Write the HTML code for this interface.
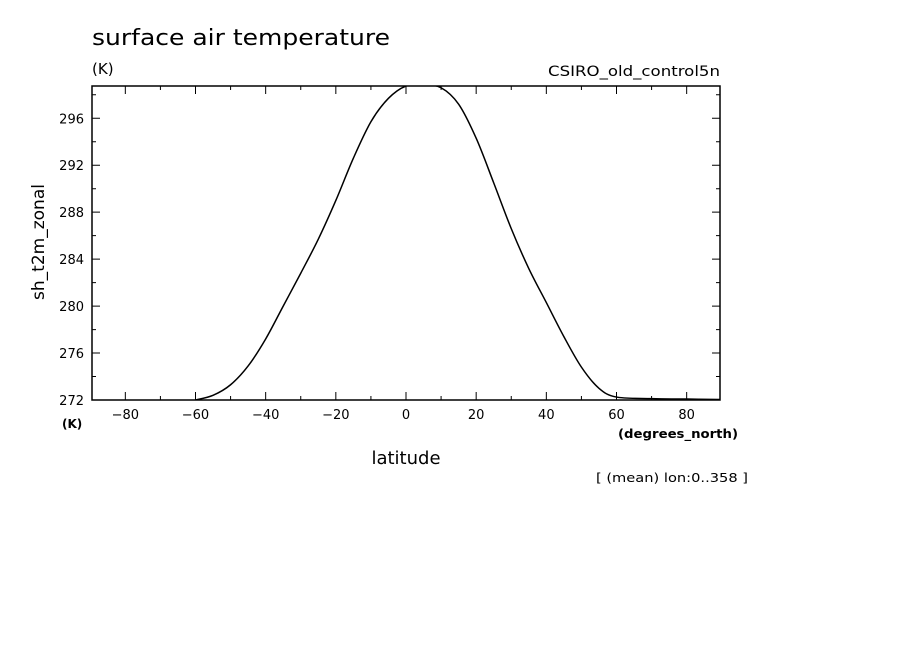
<!DOCTYPE html>
<html><head><meta charset="utf-8"><style>
body{margin:0;background:#fff;}
svg text{font-family:"DejaVu Sans","Liberation Sans",sans-serif;fill:#000;}
</style></head><body>
<svg width="904" height="654" viewBox="0 0 904 654">
<defs><clipPath id="clip"><rect x="92" y="86" width="628" height="314"/></clipPath></defs>
<rect width="904" height="654" fill="#fff"/>
<text x="92" y="45" font-size="22" textLength="298" lengthAdjust="spacingAndGlyphs">surface air temperature</text>
<text x="92" y="74" font-size="15">(K)</text>
<text x="548" y="76" font-size="14" textLength="172" lengthAdjust="spacingAndGlyphs">CSIRO_old_control5n</text>
<text transform="translate(44,242) rotate(-90)" font-size="17" text-anchor="middle">sh_t2m_zonal</text>
<text x="62" y="428" font-size="12" font-weight="bold">(K)</text>
<text x="618" y="438" font-size="12" font-weight="bold" textLength="120" lengthAdjust="spacingAndGlyphs">(degrees_north)</text>
<text x="406" y="464" font-size="18" text-anchor="middle">latitude</text>
<text x="596" y="482" font-size="12" textLength="152" lengthAdjust="spacingAndGlyphs">[ (mean) lon:0..358 ]</text>
<g id="axes"></g>
<g id="plot" clip-path="url(#clip)"></g>
</svg>
<script>
const lats=[-60,-55,-50,-45,-40,-35,-30,-25,-20,-15,-10,-5,0,5,10,15,20,25,30,35,40,45,50,55,60,70,80,89.5];
const temps=[272.0,272.4,273.3,274.9,277.2,280.0,282.8,285.7,289.0,292.6,295.7,297.7,298.75,298.85,298.6,297.2,294.3,290.5,286.6,283.2,280.3,277.4,274.8,273.0,272.25,272.12,272.08,272.04];
const xTicks=[-80,-60,-40,-20,0,20,40,60,80];
const yTicks=[272,276,280,284,288,292,296];
const L=92,R=720,T=86,B=400;
const xMin=-89.5,xMax=89.5,yMin=272,yMax=298.75;
const xs=v=>L+(v-xMin)/(xMax-xMin)*(R-L);
const ys=v=>B-(v-yMin)/(yMax-yMin)*(B-T);
const NS="http://www.w3.org/2000/svg";
const ax=document.getElementById('axes'),pl=document.getElementById('plot');
function mk(tag,at,parent){const e=document.createElementNS(NS,tag);for(const k in at)e.setAttribute(k,at[k]);parent.appendChild(e);return e;}
let f=mk('rect',{x:L,y:T,width:R-L,height:B-T,fill:'none',stroke:'#000','stroke-width':1.5},ax);


for(let v=-80;v<=80;v+=10){
  const major=v%20===0,len=major?8:4,x=xs(v);
  let t=mk('path',{d:`M${x},${B}v${-len}M${x},${T}v${len}`,stroke:'#000','stroke-width':1},ax);
  
  
}
xTicks.forEach(v=>{
  let t=mk('text',{x:xs(v),y:B+19,'font-size':13,'text-anchor':'middle'},ax);
  t.textContent=(v<0?'\u2212':'')+Math.abs(v);
  
  
});
for(let v=274;v<=298;v+=2){
  const major=v%4===0,len=major?8:4,y=ys(v);
  let t=mk('path',{d:`M${L},${y}h${len}M${R},${y}h${-len}`,stroke:'#000','stroke-width':1},ax);
  
  
}
yTicks.forEach(v=>{
  let t=mk('text',{x:L-8,y:ys(v)+5,'font-size':13,'text-anchor':'end'},ax);
  t.textContent=v;
  
  
});
const P=lats.map((a,i)=>[xs(a),ys(temps[i])]);
let d=`M${P[0][0]},${P[0][1]}`;
for(let i=0;i<P.length-1;i++){
  const p0=P[Math.max(0,i-1)],p1=P[i],p2=P[i+1],p3=P[Math.min(P.length-1,i+2)];
  const c1=[p1[0]+(p2[0]-p0[0])/6,p1[1]+(p2[1]-p0[1])/6],c2=[p2[0]-(p3[0]-p1[0])/6,p2[1]-(p3[1]-p1[1])/6];
  d+=`C${c1[0]},${c1[1]} ${c2[0]},${c2[1]} ${p2[0]},${p2[1]}`;
}
let ln=mk('path',{d:d,fill:'none',stroke:'#000','stroke-width':1.5},pl);


</script>
</body></html>
